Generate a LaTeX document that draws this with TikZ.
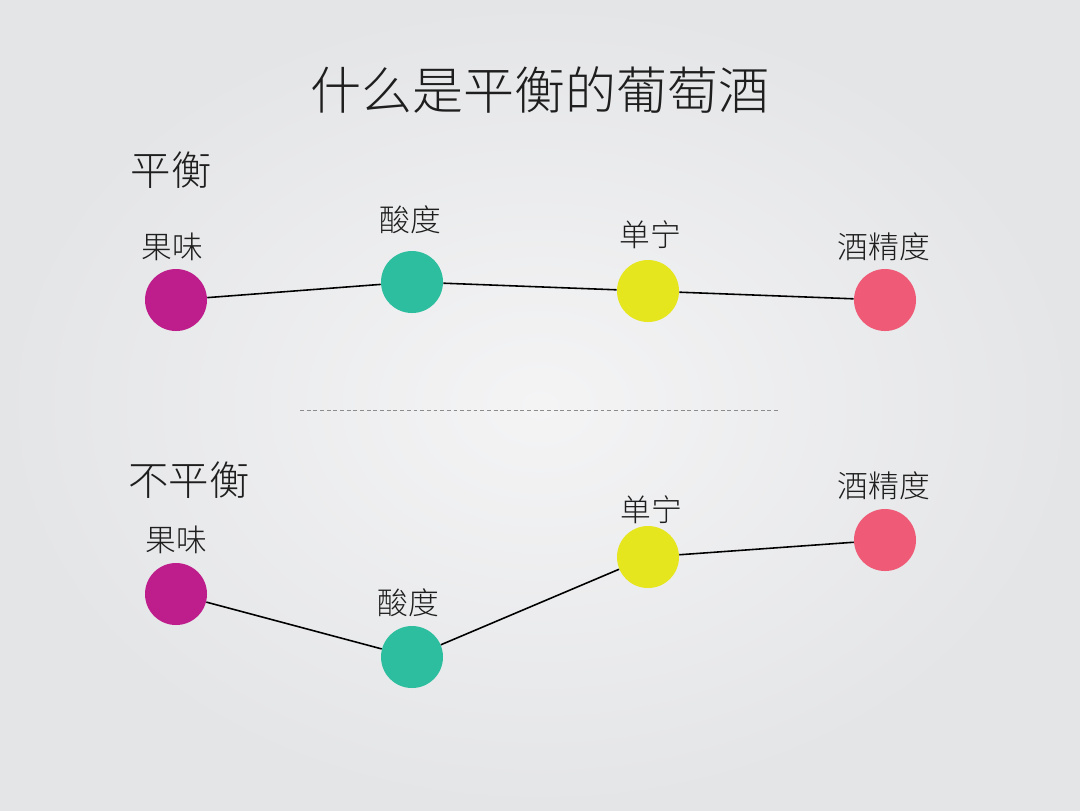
\documentclass[tikz,border=0pt]{standalone}
\usepackage{fontspec}
\setmainfont{Noto Sans CJK SC Light}
\usepackage{tikz}

\definecolor{fruit}{HTML}{BE1E8C}
\definecolor{acid}{HTML}{2DBE9F}
\definecolor{tannin}{HTML}{E6E61E}
\definecolor{alcohol}{HTML}{EF5A77}
\definecolor{bginner}{HTML}{F4F4F5}
\definecolor{bgouter}{HTML}{E4E5E7}
\definecolor{ink}{HTML}{1E1E1E}

\begin{document}
\begin{tikzpicture}[scale=0.2,
    dot/.style={circle, minimum size=1.24cm},
    lbl/.style={text=ink, font=\fontsize{17.5}{20}\selectfont},
    head/.style={text=ink, font=\fontsize{23}{27}\selectfont},
    link/.style={black, line width=0.9pt}]
            \tikzstyle{every node}+=[inner sep=0pt]
            \shade [inner color=bginner, outer color=bgouter] (0,0) rectangle (108,-81);
            \useasboundingbox (0,0) rectangle (108,-81);
            \node [text=ink] (title) at (54,-9) {\fontsize{29}{34}\selectfont 什么是平衡的葡萄酒};
            \node [head] (bal) at (17.1,-17) {平衡};
            \node [head] (unbal) at (18.9,-48) {不平衡};
            \node [dot, fill=fruit] (f1) at (17.6,-30) {};
            \node [dot, fill=acid] (a1) at (41.2,-28.2) {};
            \node [dot, fill=tannin] (t1) at (64.8,-29.1) {};
            \node [dot, fill=alcohol] (c1) at (88.5,-30) {};
            \draw [link] (f1) -- (a1) -- (t1) -- (c1);
            \node [lbl] (lf1) at (17.2,-24.7) {果味};
            \node [lbl] (la1) at (41,-22) {酸度};
            \node [lbl] (lt1) at (65,-23.5) {单宁};
            \node [lbl] (lc1) at (88.4,-24.7) {酒精度};
            \coordinate (sepl) at (30,-41);
            \coordinate (sepr) at (77.8,-41);
            \draw [black!45, dashed, dash pattern=on 2.2pt off 1.6pt, line width=0.4pt] (sepl) -- (sepr);
            \node [dot, fill=fruit] (f2) at (17.6,-59.4) {};
            \node [dot, fill=acid] (a2) at (41.2,-65.7) {};
            \node [dot, fill=tannin] (t2) at (64.8,-55.7) {};
            \node [dot, fill=alcohol] (c2) at (88.5,-54) {};
            \draw [link] (f2) -- (a2) -- (t2) -- (c2);
            \node [lbl] (lf2) at (17.6,-54) {果味};
            \node [lbl] (la2) at (40.8,-60.3) {酸度};
            \node [lbl] (lt2) at (65.1,-51) {单宁};
            \node [lbl] (lc2) at (88.4,-48.6) {酒精度};
\end{tikzpicture}
\end{document}
